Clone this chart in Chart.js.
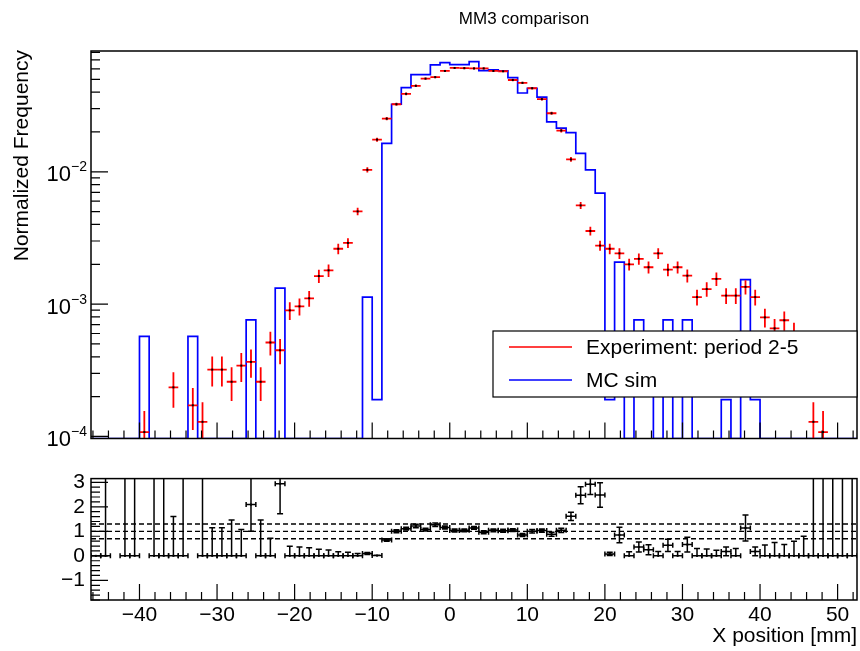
<!DOCTYPE html>
<html lang="en">
<head>
<meta charset="UTF-8">
<title>MM3 comparison</title>
<script src="https://cdn.jsdelivr.net/npm/chart.js"></script>
<style>
  body { margin: 0; background: #fff; }
  #wrap { position: relative; width: 860px; height: 651px; }
  canvas { position: absolute; left: 0; }
  #top { top: 0; }
  #ratio { top: 460px; }
</style>
</head>
<body>
<div id="wrap">
  <canvas id="top" width="860" height="460"></canvas>
  <canvas id="ratio" width="860" height="191"></canvas>
</div>
<script>
// binning: 79 bins of 1.25 mm
const X_MIN = -46.25, X_MAX = 52.5, BIN_W = 1.25;
const Y_MIN = 9.65e-5, Y_MAX = 0.0818;
const R_MIN = -1.8, R_MAX = 3.15;

// experiment (red points), null = no point
const expValues = [
  null, null, null, null, null, 1.08e-4, null, null, 2.35e-4, null,
  1.72e-4, 1.29e-4, 3.2e-4, 3.2e-4, 2.59e-4, 3.43e-4, 3.66e-4, 2.59e-4, 5.13e-4, 4.48e-4,
  8.97e-4, 9.62e-4, 1.107e-3, 1.63e-3, 1.80e-3, 2.62e-3, 2.90e-3, 5.02e-3, 1.035e-2, 1.75e-2,
  2.52e-2, 3.24e-2, 3.88e-2, 4.46e-2, 5.06e-2, 5.19e-2, 5.78e-2, 6.09e-2, 6.07e-2, 6.04e-2,
  6.04e-2, 5.78e-2, 5.75e-2, 4.94e-2, 4.70e-2, 4.28e-2, 3.54e-2, 2.77e-2, 2.05e-2, 1.24e-2,
  5.57e-3, 3.57e-3, 2.77e-3, 2.62e-3, 2.42e-3, 2.0e-3, 2.2e-3, 1.9e-3, 2.42e-3, 1.82e-3,
  1.9e-3, 1.64e-3, 1.13e-3, 1.30e-3, 1.55e-3, 1.16e-3, 1.16e-3, 1.35e-3, 1.13e-3, 7.94e-4,
  6.56e-4, 7.55e-4, 6.1e-4, 4.4e-4, 1.29e-4, 1.08e-4, null, null, null
];
const expErrors = [
  0, 0, 0, 0, 0, 4.8e-5, 0, 0, 7.0e-5, 0,
  6.0e-5, 5.2e-5, 8.2e-5, 8.2e-5, 7.4e-5, 8.5e-5, 8.8e-5, 7.4e-5, 1.04e-4, 9.7e-5,
  1.37e-4, 1.42e-4, 1.52e-4, 1.85e-4, 1.94e-4, 2.35e-4, 2.47e-4, 3.25e-4, 4.7e-4, 6.1e-4,
  7.3e-4, 8.2e-4, 9.0e-4, 9.7e-4, 1.03e-3, 1.04e-3, 1.1e-3, 1.13e-3, 1.13e-3, 1.13e-3,
  1.13e-3, 1.1e-3, 1.1e-3, 1.02e-3, 9.9e-4, 9.5e-4, 8.6e-4, 7.6e-4, 6.6e-4, 5.1e-4,
  3.4e-4, 2.7e-4, 2.4e-4, 2.35e-4, 2.25e-4, 2.05e-4, 2.15e-4, 2.0e-4, 2.25e-4, 1.95e-4,
  2.0e-4, 1.86e-4, 1.54e-4, 1.65e-4, 1.8e-4, 1.56e-4, 1.56e-4, 1.68e-4, 1.54e-4, 1.29e-4,
  1.17e-4, 1.26e-4, 1.14e-4, 9.6e-5, 5.2e-5, 4.8e-5, 0, 0, 0
];
// MC simulation (blue histogram)
const mcValues = [
  0, 0, 0, 0, 0, 5.7e-4, 0, 0, 0, 0,
  5.7e-4, 0, 0, 0, 0, 0, 7.6e-4, 0, 0, 1.32e-3,
  0, 0, 0, 0, 0, 0, 0, 0, 1.13e-3, 1.9e-4,
  1.64e-2, 3.24e-2, 4.33e-2, 5.42e-2, 5.42e-2, 6.43e-2, 6.68e-2, 6.46e-2, 6.46e-2, 6.80e-2,
  5.82e-2, 5.9e-2, 5.8e-2, 5.15e-2, 3.94e-2, 4.28e-2, 3.66e-2, 2.38e-2, 2.14e-2, 1.98e-2,
  1.38e-2, 1.035e-2, 6.9e-3, 1.9e-4, 2.08e-3, 0, 7.6e-4, 3.8e-4, 0, 7.6e-4,
  0, 7.6e-4, 0, 0, 0, 1.9e-4, 0, 1.53e-3, 1.9e-4, 0,
  0, 0, 0, 0, 0, 0, 0, 0, 0
];
// ratio panel, null = not drawn
const ratioValues = [
  0, 0, null, 0, 0, null, 0, 0, 0, 0,
  null, 0, 0, 0, 0, 0, 2.09, 0, 0, 2.94,
  0, 0, 0, 0, 0, 0, 0, 0, 0.1, 0.01,
  0.65, 1.0, 1.11, 1.22, 1.07, 1.27, 1.16, 1.03, 1.04, 1.14,
  0.96, 1.04, 1.02, 1.05, 0.85, 1.0, 1.03, 0.88, 1.04, 1.61,
  2.47, 2.92, 2.48, 0.08, 0.85, 0, 0.36, 0.25, 0, 0.43,
  0, 0.46, 0, 0, 0, 0.18, 0, 1.14, 0.18, 0,
  0, 0, 0, 0, 0, 0, 0, 0, 0
];
const ratioErrors = [
  0, 9, 0, 9, 9, 0, 9, 9, 1.6, 9,
  0, 9, 1.15, 1.15, 1.46, 1.07, 1.09, 1.46, 0.72, 1.22,
  0.39, 0.36, 0.33, 0.27, 0.24, 0.17, 0.15, 0.1, 0.04, 0.01,
  0.05, 0.06, 0.06, 0.07, 0.06, 0.07, 0.06, 0.06, 0.06, 0.06,
  0.06, 0.06, 0.06, 0.06, 0.06, 0.07, 0.07, 0.08, 0.09, 0.17,
  0.35, 0.42, 0.5, 0.07, 0.32, 0.17, 0.2, 0.2, 0.18, 0.25,
  0.18, 0.3, 0.3, 0.28, 0.23, 0.18, 0.3, 0.53, 0.18, 0.44,
  0.54, 0.46, 0.6, 0.8, 9, 9, 9, 9, 9
];
const refLevels = [0.7, 1.0, 1.3];
const xTicks = [-40, -30, -20, -10, 0, 10, 20, 30, 40, 50];
const ratioTicks = [-1, 0, 1, 2, 3];
const decades = [1e-4, 1e-3, 1e-2];
const decadeExp = ['\u22124', '\u22123', '\u22122'];

const FONT = '"Liberation Sans", Arial, Helvetica, sans-serif';
const minus = v => String(v).replace('-', '\u2212');

// build datasets
const mcSteps = [];
mcValues.forEach((v, i) => {
  const lo = X_MIN + i * BIN_W, y = v > 0 ? v : Y_MIN;
  mcSteps.push({x: lo, y: y}, {x: lo + BIN_W, y: y});
});
const expPoints = [];
expValues.forEach((v, i) => {
  if (v !== null) expPoints.push({x: X_MIN + (i + 0.5) * BIN_W, y: v, err: expErrors[i]});
});
const ratioPoints = [];
ratioValues.forEach((v, i) => {
  if (v !== null) ratioPoints.push({x: X_MIN + (i + 0.5) * BIN_W, y: v, err: ratioErrors[i]});
});

// error bars drawn through the chart scales
function drawErrors(chart, dsIndex, caps) {
  const ds = chart.data.datasets[dsIndex];
  const xs = chart.scales.x, ys = chart.scales.y, a = chart.chartArea, ctx = chart.ctx;
  ctx.save();
  ctx.beginPath();
  ctx.rect(a.left, a.top, a.right - a.left, a.bottom - a.top);
  ctx.clip();
  ctx.strokeStyle = ds.borderColor;
  ctx.lineWidth = ds.errWidth;
  ds.data.forEach(p => {
    const xl = xs.getPixelForValue(p.x - BIN_W / 2), xr = xs.getPixelForValue(p.x + BIN_W / 2);
    const xc = xs.getPixelForValue(p.x), yc = ys.getPixelForValue(p.y);
    const lowV = caps ? Math.max(p.y - p.err, 0) : p.y - p.err;
    const yTop = ys.getPixelForValue(p.y + p.err);
    const yBot = lowV > 0 || caps ? ys.getPixelForValue(lowV) : a.bottom + 5;
    ctx.beginPath();
    ctx.moveTo(xl, yc); ctx.lineTo(xr, yc);
    if (p.err > 0) { ctx.moveTo(xc, yTop); ctx.lineTo(xc, yBot); }
    if (caps) {
      ctx.moveTo(xl, yc - 2.5); ctx.lineTo(xl, yc + 2.5);
      ctx.moveTo(xr, yc - 2.5); ctx.lineTo(xr, yc + 2.5);
      if (p.err > 0) {
        ctx.moveTo(xc - 3, yTop); ctx.lineTo(xc + 3, yTop);
        if (yBot < yc - 0.5 || yBot > yc + 0.5) { ctx.moveTo(xc - 3, yBot); ctx.lineTo(xc + 3, yBot); }
      }
    }
    ctx.stroke();
    ctx.fillStyle = '#000';
    ctx.fillRect(xc - 1, yc - 1, 2, 2);
  });
  ctx.restore();
}

function drawFrame(chart) {
  const {ctx, chartArea: a} = chart;
  ctx.save();
  ctx.strokeStyle = '#000';
  ctx.lineWidth = 1.5;
  ctx.strokeRect(a.left, a.top, a.right - a.left, a.bottom - a.top);
  ctx.restore();
}

function drawXTicks(chart) {
  const {ctx, chartArea: a, scales: {x}} = chart;
  ctx.save();
  ctx.strokeStyle = '#000';
  ctx.lineWidth = 1.2;
  ctx.beginPath();
  for (let v = Math.ceil(X_MIN / 2) * 2; v <= X_MAX; v += 2) {
    const px = x.getPixelForValue(v);
    const len = v % 10 === 0 ? 16 : 8;
    ctx.moveTo(px, a.bottom); ctx.lineTo(px, a.bottom - len);
  }
  ctx.stroke();
  ctx.restore();
}

const topPlugin = {
  id: 'topPlugin',
  afterDatasetsDraw(chart) { drawErrors(chart, 1, false); },
  afterDraw(chart) {
    const {ctx, chartArea: a, scales: {y}} = chart;
    drawFrame(chart);
    drawXTicks(chart);
    // log y ticks
    ctx.save();
    ctx.strokeStyle = '#000';
    ctx.lineWidth = 1.2;
    ctx.beginPath();
    for (let e = -5; e <= -1; e++) {
      for (let k = 1; k <= 9; k++) {
        const v = k * Math.pow(10, e);
        if (v < Y_MIN || v > Y_MAX) continue;
        const py = y.getPixelForValue(v);
        ctx.moveTo(a.left, py); ctx.lineTo(a.left + (k === 1 ? 17 : 9), py);
      }
    }
    ctx.stroke();
    // decade labels
    ctx.fillStyle = '#000';
    ctx.textBaseline = 'alphabetic';
    decades.forEach((d, i) => {
      const py = y.getPixelForValue(d);
      ctx.font = '22px ' + FONT;
      ctx.textAlign = 'right';
      ctx.fillText('10', 71, py + 9.7);
      ctx.font = '14px ' + FONT;
      ctx.textAlign = 'left';
      ctx.fillText(decadeExp[i], 71, py - 0.3);
    });
    // title
    ctx.font = '17px ' + FONT;
    ctx.textAlign = 'center';
    ctx.fillText('MM3 comparison', 524, 24);
    // y title
    ctx.save();
    ctx.translate(27.5, a.top - 1);
    ctx.rotate(-Math.PI / 2);
    ctx.font = '21px ' + FONT;
    ctx.textAlign = 'right';
    ctx.fillText('Normalized Frequency', 0, 0);
    ctx.restore();
    // legend
    const lx = 493, ly = 331, lw = a.right - lx, lh = 66;
    ctx.fillStyle = '#fff';
    ctx.fillRect(lx, ly, lw, lh);
    ctx.strokeStyle = '#000';
    ctx.lineWidth = 1.2;
    ctx.strokeRect(lx, ly, lw, lh);
    const ds = chart.data.datasets;
    [[ds[1], 347, 353.5], [ds[0], 380, 387]].forEach(([d, yy, base]) => {
      ctx.strokeStyle = d.borderColor;
      ctx.lineWidth = 1.7;
      ctx.beginPath();
      ctx.moveTo(509, yy); ctx.lineTo(572, yy);
      ctx.stroke();
      ctx.fillStyle = '#000';
      ctx.font = '21px ' + FONT;
      ctx.textAlign = 'left';
      ctx.fillText(d.label, 586, base);
    });
    ctx.restore();
  }
};

const ratioPlugin = {
  id: 'ratioPlugin',
  afterDatasetsDraw(chart) { drawErrors(chart, 0, true); },
  afterDraw(chart) {
    const {ctx, chartArea: a, scales: {y}} = chart;
    drawFrame(chart);
    drawXTicks(chart);
    ctx.save();
    ctx.strokeStyle = '#000';
    ctx.lineWidth = 1.2;
    ctx.beginPath();
    for (let i = Math.ceil(R_MIN * 5); i <= Math.floor(R_MAX * 5); i++) {
      const py = y.getPixelForValue(i / 5);
      ctx.moveTo(a.left, py); ctx.lineTo(a.left + (i % 5 === 0 ? 17 : 9), py);
    }
    ctx.stroke();
    ctx.fillStyle = '#000';
    ctx.font = '21px ' + FONT;
    ctx.textAlign = 'right';
    ctx.textBaseline = 'alphabetic';
    ctx.fillText('X position [mm]', a.right, 182);
    ctx.restore();
  }
};

new Chart(document.getElementById('top'), {
  type: 'scatter',
  data: {
    datasets: [
      { label: 'MC sim', data: mcSteps, showLine: true, borderColor: '#0000ff', borderWidth: 1.7,
        pointRadius: 0, tension: 0, fill: false },
      { label: 'Experiment: period 2-5', data: expPoints, showLine: false, borderColor: '#ff0000',
        errWidth: 1.8, pointRadius: 0 }
    ]
  },
  options: {
    responsive: false, animation: false, devicePixelRatio: 1,
    layout: { padding: { top: 51, right: 3, left: 0, bottom: 0 } },
    plugins: { legend: { display: false }, title: { display: false }, tooltip: { enabled: false } },
    scales: {
      x: { type: 'linear', min: X_MIN, max: X_MAX,
        ticks: { display: false }, grid: { display: false, drawTicks: false }, border: { display: false },
        afterFit: s => { s.height = 460 - 438.5; } },
      y: { type: 'logarithmic', min: Y_MIN, max: Y_MAX,
        ticks: { display: false }, grid: { display: false, drawTicks: false }, border: { display: false },
        afterFit: s => { s.width = 91; } }
    }
  },
  plugins: [topPlugin]
});

new Chart(document.getElementById('ratio'), {
  type: 'scatter',
  data: {
    datasets: [
      { label: 'ratio', data: ratioPoints, showLine: false, borderColor: '#000', errWidth: 1.5, pointRadius: 0 }
    ].concat(refLevels.map(l => ({
      label: 'ref ' + l, data: [{x: X_MIN, y: l}, {x: X_MAX, y: l}], showLine: true,
      borderColor: '#000', borderWidth: 1.4, borderDash: [5, 3], pointRadius: 0
    })))
  },
  options: {
    responsive: false, animation: false, devicePixelRatio: 1,
    layout: { padding: { top: 12.3, right: 3, left: 0, bottom: 0 } },
    plugins: { legend: { display: false }, title: { display: false }, tooltip: { enabled: false } },
    scales: {
      x: { type: 'linear', min: X_MIN, max: X_MAX,
        afterBuildTicks: s => { s.ticks = xTicks.map(v => ({value: v})); },
        ticks: { color: '#000', font: { family: FONT, size: 21 }, padding: 3, maxRotation: 0, autoSkip: false,
          callback: v => minus(v) },
        grid: { display: false, drawTicks: false }, border: { display: false },
        afterFit: s => { s.height = 191 - 140; } },
      y: { type: 'linear', min: R_MIN, max: R_MAX,
        afterBuildTicks: s => { s.ticks = ratioTicks.map(v => ({value: v})); },
        ticks: { color: '#000', font: { family: FONT, size: 21 }, padding: 6, callback: v => minus(v) },
        grid: { display: false, drawTicks: false }, border: { display: false },
        afterFit: s => { s.width = 91; } }
    }
  },
  plugins: [ratioPlugin]
});
</script>
</body>
</html>
